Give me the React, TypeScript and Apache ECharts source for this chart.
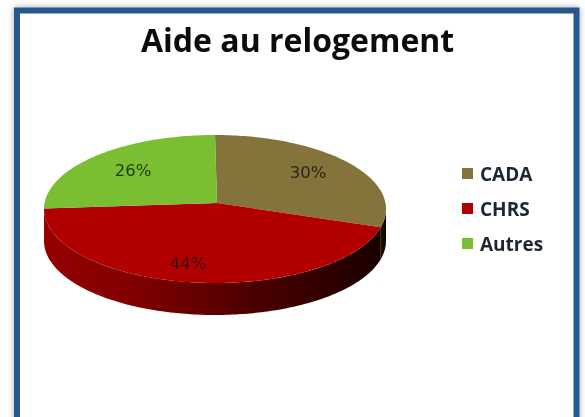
import React, { useEffect, useRef } from "react";
import * as echarts from "echarts";

const titleText = "Aide au relogement";
const categories = ["CADA", "CHRS", "Autres"];
const shares = [30, 44, 26];
const colors = ["#85733c", "#b20000", "#7abe32"];
const sideStops = [
  [[0, "#1c0f00"], [1, "#120800"]],
  [[0, "#980000"], [0.3, "#7c0000"], [0.55, "#560000"], [0.8, "#340000"], [1, "#180000"]],
  [[0, "#4f7d20"], [1, "#4f7d20"]],
];
const labelColors = ["#2a2a14", "#3a0808", "#1d3a10"];

const layout = {
  cx: 215, cy: 209, rx: 171, ry: 74, depth: 32, apexX: 217, apexY: 203,
  warp: 4,
  labels: [[308, 172], [188, 263], [133, 170]],
};

const rad = (d: number) => (d * Math.PI) / 180;
// slight perspective: the visible ellipse angle differs a little from the true share angle
const warped = (t: number) => t - layout.warp * Math.sin(rad(t));
const pt = (t: number, dy = 0) => [
  layout.cx + layout.rx * Math.sin(rad(t)),
  layout.cy - layout.ry * Math.cos(rad(t)) + dy,
];
const arcPoints = (a: number, b: number, dy = 0) => {
  const out: number[][] = [];
  const n = Math.max(2, Math.ceil(Math.abs(b - a)));
  for (let i = 0; i <= n; i++) out.push(pt(a + ((b - a) * i) / n, dy));
  return out;
};

export default function App() {
  const ref = useRef<HTMLDivElement>(null);
  useEffect(() => {
    const chart = echarts.init(ref.current!, undefined, { renderer: "svg" });
    const total = shares.reduce((s, v) => s + v, 0);
    const renderItem = (index: number) => (_p: any, api: any) => {
      const value = api.value(0);
      const before = shares.slice(0, index).reduce((s, v) => s + v, 0);
      const a = warped((before / total) * 360);
      const b = warped(((before + value) / total) * 360);
      const children: any[] = [];
      const sa = Math.max(a, 90);
      const sb = Math.min(b, 270);
      if (sb > sa) {
        const top = arcPoints(sa, sb);
        const bottom = arcPoints(sb, sa, layout.depth);
        children.push({
          type: "polygon",
          shape: { points: [...top, ...bottom] },
          style: {
            fill: new echarts.graphic.LinearGradient(0, 0, 1, 0,
              sideStops[index].map(([offset, color]) => ({ offset: offset as number, color: color as string }))),
          },
        });
      }
      children.push({
        type: "polygon",
        shape: { points: [[layout.apexX, layout.apexY], ...arcPoints(a, b)] },
        style: { fill: colors[index] },
      });
      children.push({
        type: "text",
        z2: 10,
        style: {
          text: `${value}%`,
          x: layout.labels[index][0],
          y: layout.labels[index][1],
          fill: labelColors[index],
          font: '16.5px "DejaVu Sans"',
          textAlign: "center",
          textVerticalAlign: "middle",
        },
      });
      return { type: "group", children };
    };
    chart.setOption({
      animation: false,
      backgroundColor: "#ffffff",
      title: {
        text: titleText,
        left: 141,
        top: 23,
        padding: 0,
        textStyle: { fontFamily: "Open Sans", fontWeight: "bold", fontSize: 32, color: "#0c0c0c" },
      },
      legend: {
        orient: "vertical",
        left: 462,
        top: 164,
        padding: 0,
        icon: "rect",
        itemWidth: 11,
        itemHeight: 11,
        itemGap: 16,
        data: categories,
        selectedMode: false,
        textStyle: { fontFamily: "Open Sans", fontWeight: "bold", fontSize: 19, color: "#1c2733", padding: [0, 0, 0, 2] },
      },
      graphic: [
        {
          type: "rect",
          shape: { x: 17, y: 10.5, width: 559.5, height: 430 },
          z: -1,
          style: {
            fill: "#ffffff",
            stroke: "#28588f",
            lineWidth: 6,
            shadowBlur: 6,
            shadowColor: "rgba(0,0,0,0.35)",
          },
        },
      ],
      series: categories.map((name, i) => ({
        type: "custom",
        name,
        coordinateSystem: "none",
        itemStyle: { color: colors[i] },
        data: [[shares[i]]],
        renderItem: renderItem(i),
      })),
    });
    return () => chart.dispose();
  }, []);
  return (
    <div
      ref={ref}
      style={{ position: "absolute", left: 0, top: 0, width: 585, height: 417, filter: "blur(0.4px)" }}
    />
  );
}
